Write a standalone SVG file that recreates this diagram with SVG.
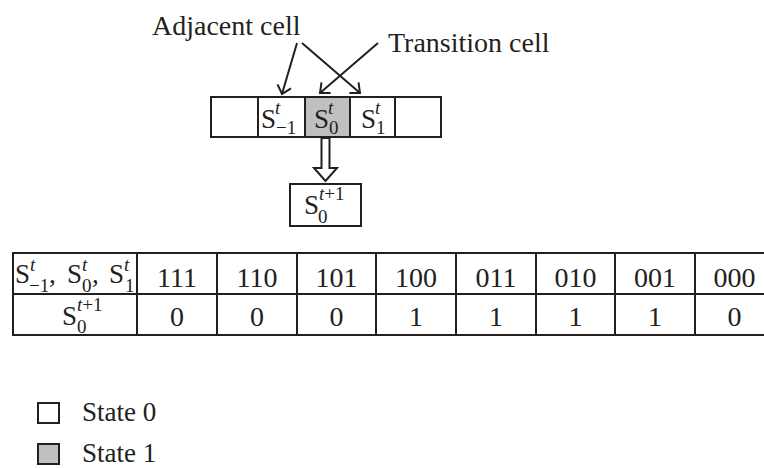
<svg xmlns="http://www.w3.org/2000/svg" width="764" height="468" viewBox="0 0 764 468">
<style>
text{font-family:"Liberation Serif","Times New Roman",serif;fill:#231f20}
.lbl{font-size:28px}
.big{font-size:27px}
.num{font-size:28px;text-anchor:middle}
.sm{font-size:19px}
.it{font-style:italic}
.ln{stroke:#231f20;stroke-width:2;fill:none}
.cell{stroke:#231f20;stroke-width:2;fill:#fff}
.on{fill:#c0c0c0}
</style>
<defs>
<marker id="ah" viewBox="0 0 16 16" refX="14" refY="8" markerWidth="16" markerHeight="16" markerUnits="userSpaceOnUse" orient="auto">
<path d="M6,1 L14,8 L6,15" fill="none" stroke="#231f20" stroke-width="2"/>
</marker>
</defs>
<rect width="764" height="468" fill="#fff"/>

<g id="label-adjacent"><text class="lbl" x="152" y="35">Adjacent cell</text></g>
<g id="label-transition"><text class="lbl" x="388" y="52">Transition cell</text></g>

<g id="cells">
<rect class="cell" x="211" y="97" width="47" height="40"/>
<rect class="cell" x="258" y="97" width="47" height="40"/>
<rect class="cell on" x="305" y="97" width="45" height="40"/>
<rect class="cell" x="350" y="97" width="45" height="40"/>
<rect class="cell" x="395" y="97" width="46" height="40"/>
<text class="big" x="261" y="128">S</text><text class="sm it" x="275" y="114">t</text><text class="sm" x="276" y="134">−1</text>
<text class="big" x="314" y="128">S</text><text class="sm it" x="328" y="114">t</text><text class="sm" x="329" y="134">0</text>
<text class="big" x="361" y="128">S</text><text class="sm it" x="375" y="114">t</text><text class="sm" x="376" y="134">1</text>
</g>

<g id="next-state">
<rect class="cell" x="290" y="184" width="71" height="42"/>
<text class="big" x="304" y="214">S</text><text class="sm" x="319" y="200"><tspan class="it">t</tspan>+1</text><text class="sm" x="318" y="223">0</text>
</g>

<g id="connectors">
<line class="ln" x1="297" y1="43" x2="282" y2="94" marker-end="url(#ah)"/>
<line class="ln" x1="302" y1="43" x2="360" y2="93" marker-end="url(#ah)"/>
<line class="ln" x1="378" y1="43" x2="320" y2="93" marker-end="url(#ah)"/>
<polygon class="cell" points="321.5,138 329.5,138 329.5,168 337,168 325.5,181 314,168 321.5,168"/>
</g>

<g id="table">
<line class="ln" x1="12" y1="253" x2="764" y2="253"/>
<line class="ln" x1="12" y1="294" x2="764" y2="294"/>
<line class="ln" x1="12" y1="335" x2="764" y2="335"/>
<line class="ln" x1="13" y1="252" x2="13" y2="336"/>
<line class="ln" x1="137" y1="252" x2="137" y2="336"/>
<line class="ln" x1="217" y1="252" x2="217" y2="336"/>
<line class="ln" x1="297" y1="252" x2="297" y2="336"/>
<line class="ln" x1="376" y1="252" x2="376" y2="336"/>
<line class="ln" x1="456" y1="252" x2="456" y2="336"/>
<line class="ln" x1="536" y1="252" x2="536" y2="336"/>
<line class="ln" x1="615" y1="252" x2="615" y2="336"/>
<line class="ln" x1="695" y1="252" x2="695" y2="336"/>
<text class="big" x="15" y="283">S</text><text class="sm it" x="30" y="271">t</text><text class="sm" x="29" y="292">−1</text><text class="big" x="49" y="283">,</text>
<text class="big" x="67" y="283">S</text><text class="sm it" x="82" y="271">t</text><text class="sm" x="82" y="292">0</text><text class="big" x="92" y="283">,</text>
<text class="big" x="109" y="283">S</text><text class="sm it" x="124" y="271">t</text><text class="sm" x="125" y="292">1</text>
<text class="big" x="62" y="325">S</text><text class="sm" x="77" y="311"><tspan class="it">t</tspan>+1</text><text class="sm" x="77" y="333">0</text>
<text class="num" x="177" y="287">111</text><text class="num" x="257" y="287">110</text><text class="num" x="336.5" y="287">101</text><text class="num" x="416" y="287">100</text>
<text class="num" x="496" y="287">011</text><text class="num" x="575.5" y="287">010</text><text class="num" x="655" y="287">001</text><text class="num" x="734.5" y="287">000</text>
<text class="num" x="177" y="326">0</text><text class="num" x="257" y="326">0</text><text class="num" x="336.5" y="326">0</text><text class="num" x="416" y="326">1</text>
<text class="num" x="496" y="326">1</text><text class="num" x="575.5" y="326">1</text><text class="num" x="655" y="326">1</text><text class="num" x="734.5" y="326">0</text>
</g>

<g id="legend-state0">
<rect class="cell" x="38" y="403" width="21" height="20"/>
<text class="big" x="82" y="421">State 0</text>
</g>
<g id="legend-state1">
<rect class="cell on" x="38" y="444" width="21" height="20"/>
<text class="big" x="82" y="462">State 1</text>
</g>
</svg>
